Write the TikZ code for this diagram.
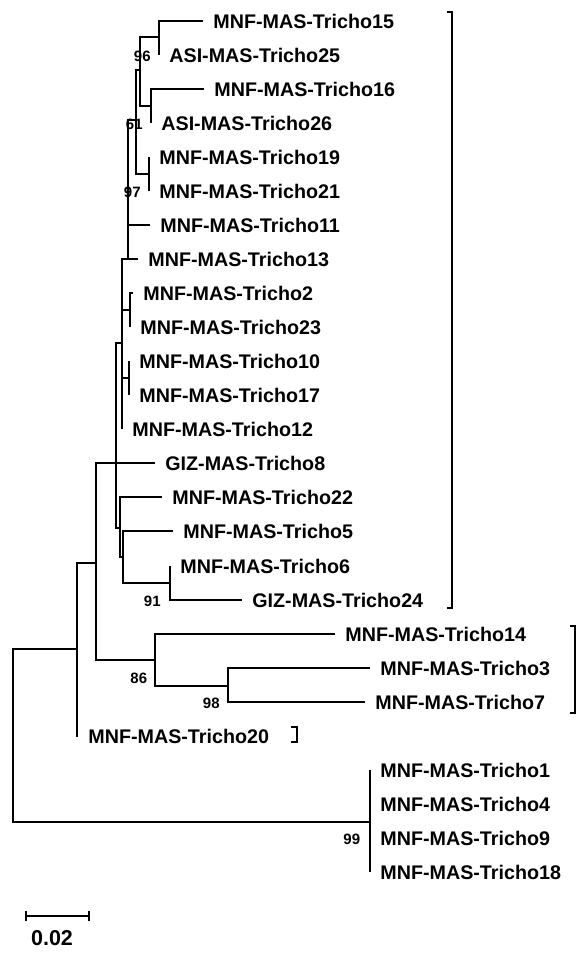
\documentclass[tikz,border=0pt]{standalone}
\usepackage{fontspec}
\setmainfont{Liberation Sans}
\usetikzlibrary{positioning}

\begin{document}
\begin{tikzpicture}[x=1pt,y=-1pt,line width=1.8pt,
    leaf/.style={anchor=west,inner xsep=9.5pt,inner ysep=0pt,font=\fontsize{19.7}{20}\selectfont\bfseries},
    boot/.style={anchor=east,inner sep=0pt,font=\fontsize{15}{15}\selectfont\bfseries},
    scalelab/.style={inner sep=0pt,font=\fontsize{21.5}{22}\selectfont\bfseries}]
    \useasboundingbox (0,0) rectangle (579,953);

    % internal nodes
    \coordinate (n1525) at (159,37);
    \coordinate (n1626) at (151,106);
    \coordinate (G) at (140,70);
    \coordinate (J) at (149,174);
    \coordinate (I) at (136,120);
    \coordinate (K) at (128,259);
    \coordinate (P) at (130,310);
    \coordinate (Q) at (129,378);
    \coordinate (L) at (122,343);
    \coordinate (A) at (116,463);
    \coordinate (B) at (120,528);
    \coordinate (C) at (123,557);
    \coordinate (D) at (170,583);
    \coordinate (R) at (96,563);
    \coordinate (E) at (155,660);
    \coordinate (F) at (228,686);
    \coordinate (S) at (77,649);
    \coordinate (T) at (370,822);
    \coordinate (root) at (13,735);

    % leaves
    \node[leaf] (t15) at (203,21)  {MNF-MAS-Tricho15};
    \node[leaf] (t25) at (159,55)  {ASI-MAS-Tricho25};
    \node[leaf] (t16) at (204,89)  {MNF-MAS-Tricho16};
    \node[leaf] (t26) at (151,123) {ASI-MAS-Tricho26};
    \node[leaf] (t19) at (149,157) {MNF-MAS-Tricho19};
    \node[leaf] (t21) at (149,191) {MNF-MAS-Tricho21};
    \node[leaf] (t11) at (150,225) {MNF-MAS-Tricho11};
    \node[leaf] (t13) at (138,259) {MNF-MAS-Tricho13};
    \node[leaf] (t2)  at (133,293) {MNF-MAS-Tricho2};
    \node[leaf] (t23) at (130,327) {MNF-MAS-Tricho23};
    \node[leaf] (t10) at (129,361) {MNF-MAS-Tricho10};
    \node[leaf] (t17) at (129,395) {MNF-MAS-Tricho17};
    \node[leaf] (t12) at (122,429) {MNF-MAS-Tricho12};
    \node[leaf] (t8)  at (155,463) {GIZ-MAS-Tricho8};
    \node[leaf] (t22) at (162,497) {MNF-MAS-Tricho22};
    \node[leaf] (t5)  at (173,531) {MNF-MAS-Tricho5};
    \node[leaf] (t6)  at (170,566) {MNF-MAS-Tricho6};
    \node[leaf] (t24) at (242,600) {GIZ-MAS-Tricho24};
    \node[leaf] (t14) at (335,634) {MNF-MAS-Tricho14};
    \node[leaf] (t3)  at (370,668) {MNF-MAS-Tricho3};
    \node[leaf] (t7)  at (365,702) {MNF-MAS-Tricho7};
    \node[leaf] (t20) at (78,736)  {MNF-MAS-Tricho20};
    \node[leaf] (t1)  at (370,770) {MNF-MAS-Tricho1};
    \node[leaf] (t4)  at (370,804) {MNF-MAS-Tricho4};
    \node[leaf] (t9)  at (370,838) {MNF-MAS-Tricho9};
    \node[leaf] (t18) at (370,872) {MNF-MAS-Tricho18};

    % bootstrap values
    \node[boot] (b96) at (151.5,56)  {96};
    \node[boot] (b61) at (143.5,124) {61};
    \node[boot] (b97) at (141.5,192) {97};
    \node[boot] (b91) at (161.5,601) {91};
    \node[boot] (b86) at (148,678)   {86};
    \node[boot] (b98) at (220.5,703) {98};
    \node[boot] (b99) at (361,839)   {99};

    \draw
        (n1525) |- (t15.west)  (n1525) |- (t25.west)
        (n1626) |- (t16.west)  (n1626) |- (t26.west)
        (G) |- (n1525)  (G) |- (n1626)
        (J) |- (t19.west)  (J) |- (t21.west)
        (I) |- (G)  (I) |- (J)
        (K) |- (I)  (K) |- (t11.west)  (K) |- (t13.west)
        (P) |- (t2.west)  (P) |- (t23.west)
        (Q) |- (t10.west)  (Q) |- (t17.west)
        (L) |- (K)  (L) |- (P)  (L) |- (Q)  (L) |- (t12.west)
        (A) |- (L)  (A) |- (t8.west)  (A) |- (B)
        (B) |- (t22.west)  (B) |- (C)
        (C) |- (t5.west)  (C) |- (D)
        (D) |- (t6.west)  (D) |- (t24.west)
        (R) |- (A)  (R) |- (E)
        (E) |- (t14.west)  (E) |- (F)
        (F) |- (t3.west)  (F) |- (t7.west)
        (S) |- (R)  (S) |- (t20.west)
        (root) |- (S)  (root) |- (T)
        (T) |- (t1.west)  (T) |- (t4.west)  (T) |- (t9.west)  (T) |- (t18.west);

    % group brackets
    \draw (447,12) -- (452,12) -- (452,608) -- (447,608);
    \draw (570,626) -- (575,626) -- (575,713) -- (570,713);
    \draw (291,727) -- (297,727) -- (297,742) -- (291,742);

    % scale bar
    \coordinate (sb1) at (26,916);
    \coordinate (sb2) at (89,916);
    \draw (sb1) -- (sb2);
    \draw ([yshift=-5pt]sb1) -- ([yshift=5pt]sb1);
    \draw ([yshift=-5pt]sb2) -- ([yshift=5pt]sb2);
    \node[scalelab] (s02) at (52,938) {0.02};
\end{tikzpicture}
\end{document}
